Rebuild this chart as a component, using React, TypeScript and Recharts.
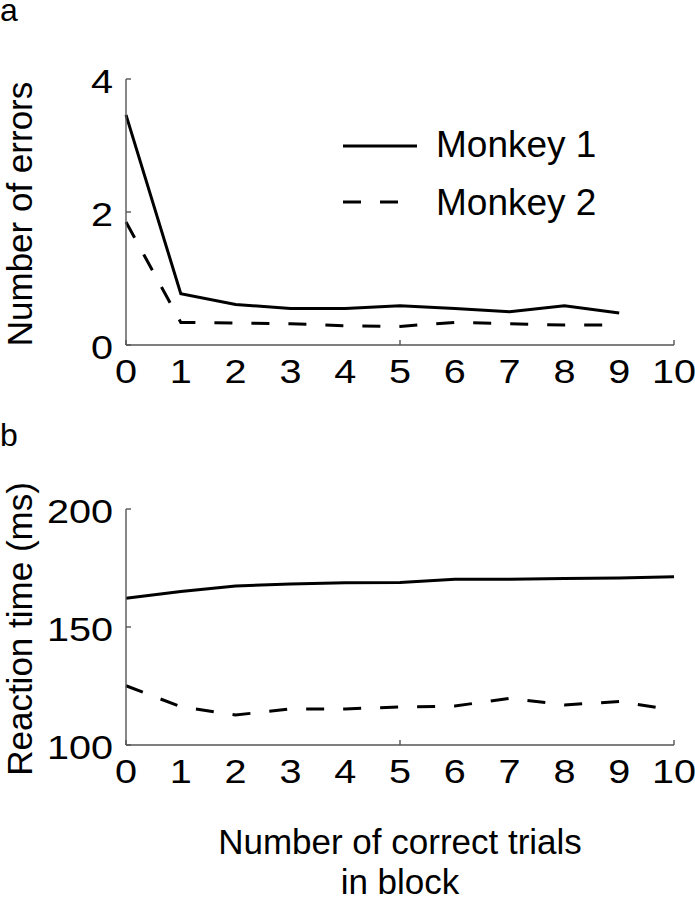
import { LineChart, Line, XAxis, YAxis, Legend, Label } from "recharts"

const FONT = "'Liberation Sans', Arial, Helvetica, sans-serif"

const trials = [0, 1, 2, 3, 4, 5, 6, 7, 8, 9, 10]
const seriesNames = ["Monkey 1", "Monkey 2"]

// panel a: number of errors (no value at 10)
const errorsMonkey1 = [3.46, 0.77, 0.61, 0.55, 0.55, 0.59, 0.55, 0.5, 0.59, 0.48, null]
const errorsMonkey2 = [1.85, 0.34, 0.33, 0.32, 0.29, 0.28, 0.34, 0.32, 0.3, 0.3, null]

// panel b: reaction time (ms)
const rtMonkey1 = [162.2, 165, 167.4, 168.2, 168.8, 168.9, 170.2, 170.2, 170.5, 170.8, 171.3]
const rtMonkey2 = [125.1, 116.2, 112.7, 115.3, 115.3, 116.1, 116.5, 119.8, 117, 118.4, 114.8]

const xTickMarks = [0, 5, 10]
const errorTicks = [0, 2, 4]
const rtTicks = [100, 150, 200]

const errorData = trials.map((t, i) => ({ trial: t, m1: errorsMonkey1[i], m2: errorsMonkey2[i] }))
const rtData = trials.map((t, i) => ({ trial: t, m1: rtMonkey1[i], m2: rtMonkey2[i] }))

const AXIS = "#555"
const DASH = "18 19"

function XTick(props: any) {
  const { x, y, payload } = props
  const v = payload.value
  return (
    <g>
      {xTickMarks.includes(v) && <line x1={x} x2={x} y1={y} y2={y - 5} stroke={AXIS} strokeWidth={1.4} />}
      <text
        transform={`translate(${x},${y + 38}) scale(1.2,1)`}
        textAnchor="middle"
        fontFamily={FONT}
        fontSize={33}
        fill="#000"
      >
        {v}
      </text>
    </g>
  )
}

function YTick(props: any) {
  const { x, y, payload } = props
  return (
    <g>
      <line x1={x} x2={x + 5} y1={y} y2={y} stroke={AXIS} strokeWidth={1.4} />
      <text
        transform={`translate(${x - 13},${y + 14}) scale(1.2,1)`}
        textAnchor="end"
        fontFamily={FONT}
        fontSize={33}
        fill="#000"
      >
        {payload.value}
      </text>
    </g>
  )
}

function yTitle(text: string) {
  return (props: any) => {
    const vb = props.viewBox
    const cy = vb.y + vb.height / 2 + 2
    return (
      <text
        transform={`translate(32,${cy}) rotate(-90)`}
        textAnchor="middle"
        fontFamily={FONT}
        fontSize={35}
        fill="#000"
      >
        {text}
      </text>
    )
  }
}

function xTitle(props: any) {
  const vb = props.viewBox
  const cx = vb.x + vb.width / 2
  return (
    <text textAnchor="middle" fontFamily={FONT} fontSize={35} fill="#000">
      <tspan x={cx} y={vb.y + 109}>Number of correct trials</tspan>
      <tspan x={cx} y={vb.y + 149}>in block</tspan>
    </text>
  )
}

function LegendBox(props: any) {
  const payload = props.payload || []
  return (
    <svg width={300} height={120}>
      {payload.map((entry: any, i: number) => (
        <g key={entry.value}>
          <line
            x1={0}
            x2={74}
            y1={26 + i * 56}
            y2={26 + i * 56}
            stroke="#000"
            strokeWidth={3}
            strokeDasharray={entry.payload?.strokeDasharray}
          />
          <text x={93} y={37 + i * 58} fontFamily={FONT} fontSize={37} fill="#000">
            {entry.value}
          </text>
        </g>
      ))}
    </svg>
  )
}

export default function App() {
  return (
    <div style={{ position: "absolute", left: 0, top: 0, width: 695, height: 900, background: "#fff" }}>
      <svg width={695} height={900} style={{ position: "absolute", left: 0, top: 0 }}>
        <text x={0} y={21} fontFamily={FONT} fontSize={32} fill="#000">a</text>
        <text x={0} y={446} fontFamily={FONT} fontSize={32} fill="#000">b</text>
      </svg>

      <div style={{ position: "absolute", left: 0, top: 0 }}>
        <LineChart width={695} height={400} data={errorData} margin={{ top: 79, right: 21, bottom: 0, left: 0 }}>
          <XAxis
            dataKey="trial"
            type="number"
            domain={[0, 10]}
            ticks={trials}
            interval={0}
            height={55}
            tickSize={0}
            tickMargin={0}
            tickLine={false}
            axisLine={{ stroke: AXIS, strokeWidth: 1.4 }}
            tick={<XTick />}
          />
          <YAxis
            type="number"
            domain={[0, 4]}
            ticks={errorTicks}
            interval={0}
            width={126}
            tickSize={0}
            tickMargin={0}
            tickLine={false}
            axisLine={{ stroke: AXIS, strokeWidth: 1.4 }}
            tick={<YTick />}
          >
            <Label content={yTitle("Number of errors")} />
          </YAxis>
          <Legend
            layout="vertical"
            align="center"
            verticalAlign="middle"
            wrapperStyle={{ left: 343, top: 120, width: 300 }}
            content={<LegendBox />}
          />
          <Line
            dataKey="m1"
            name={seriesNames[0]}
            type="linear"
            stroke="#000"
            strokeWidth={3}
            dot={false}
            isAnimationActive={false}
          />
          <Line
            dataKey="m2"
            name={seriesNames[1]}
            type="linear"
            stroke="#000"
            strokeWidth={3}
            strokeDasharray={DASH}
            dot={false}
            isAnimationActive={false}
          />
        </LineChart>
      </div>

      <div style={{ position: "absolute", left: 0, top: 400 }}>
        <LineChart width={695} height={500} data={rtData} margin={{ top: 109, right: 21, bottom: 0, left: 0 }}>
          <XAxis
            dataKey="trial"
            type="number"
            domain={[0, 10]}
            ticks={trials}
            interval={0}
            height={155}
            tickSize={0}
            tickMargin={0}
            tickLine={false}
            axisLine={{ stroke: AXIS, strokeWidth: 1.4 }}
            tick={<XTick />}
          >
            <Label content={xTitle} />
          </XAxis>
          <YAxis
            type="number"
            domain={[100, 200]}
            ticks={rtTicks}
            interval={0}
            width={126}
            tickSize={0}
            tickMargin={0}
            tickLine={false}
            axisLine={{ stroke: AXIS, strokeWidth: 1.4 }}
            tick={<YTick />}
          >
            <Label content={yTitle("Reaction time (ms)")} />
          </YAxis>
          <Line
            dataKey="m1"
            name={seriesNames[0]}
            type="linear"
            stroke="#000"
            strokeWidth={3}
            dot={false}
            isAnimationActive={false}
          />
          <Line
            dataKey="m2"
            name={seriesNames[1]}
            type="linear"
            stroke="#000"
            strokeWidth={3}
            strokeDasharray={DASH}
            dot={false}
            isAnimationActive={false}
          />
        </LineChart>
      </div>
    </div>
  )
}
